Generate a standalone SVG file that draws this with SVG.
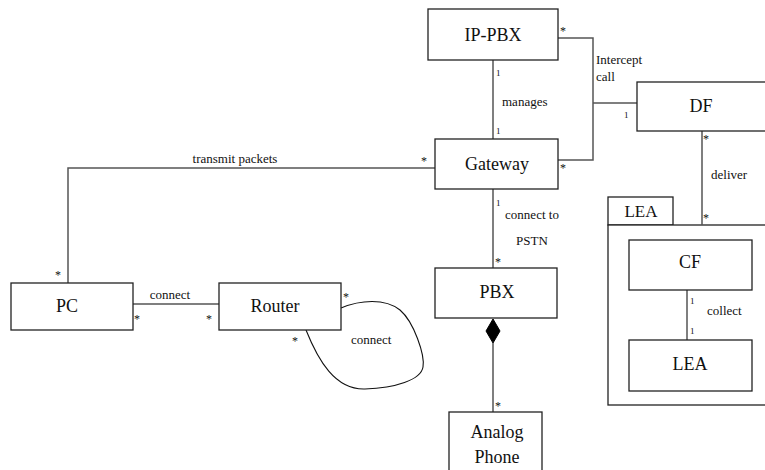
<svg xmlns="http://www.w3.org/2000/svg" width="765" height="470" viewBox="0 0 765 470" font-family="'Liberation Serif', 'DejaVu Serif', serif">
<style>
  .box{fill:#fff;stroke:#222;stroke-width:1.3}
  .ln{fill:none;stroke:#555;stroke-width:1.5}
  .loop{fill:none;stroke:#111;stroke-width:1.1}
  text{font-family:'Liberation Serif','DejaVu Serif',serif;fill:#111}
  .nl{font-size:18px;text-anchor:middle}
  .lb{font-size:13px}
  .m1{font-size:9px}
  .ms{font-size:12px}
</style>
<rect width="765" height="470" fill="#fff"/>
<g id="LEA-package">
  <rect class="box" x="608" y="197" width="65" height="28"/>
  <text class="nl" x="641" y="217" style="font-size:17px">LEA</text>
  <rect class="box" x="608" y="225" width="170" height="180"/>
</g>
<g id="connectors">
  <polyline class="ln" points="493,60 493,139"/>
  <polyline class="ln" points="558,38 593,38 593,160 558,160"/>
  <polyline class="ln" points="593,103 637,103"/>
  <polyline class="ln" points="435,168 68,168 68,283"/>
  <polyline class="ln" points="133,304 219,304"/>
  <path class="loop" d="M341,308 C360,300 385,298 400,310 C414,322 425,355 423,367 C421,380 395,388 365,389 C335,390 318,360 306,330"/>
  <polyline class="ln" points="493,189 493,268"/>
  <polyline class="ln" points="493,343 493,412"/>
  <polygon points="493,319 500,331 493,343 486,331" fill="#000" stroke="#000" stroke-width="1"/>
  <polyline class="ln" points="702,131 702,225"/>
  <polyline class="ln" points="687,290 687,340"/>
  <text class="m1" x="496" y="76">1</text>
  <text class="lb" x="502" y="106">manages</text>
  <text class="m1" x="496" y="134">1</text>
  <text class="ms" x="560" y="35">*</text>
  <text class="lb" x="596" y="64">Intercept</text>
  <text class="lb" x="596" y="81">call</text>
  <text class="m1" x="624" y="118">1</text>
  <text class="ms" x="560" y="172">*</text>
  <text class="ms" x="421" y="165">*</text>
  <text class="lb" x="235" y="163" text-anchor="middle">transmit packets</text>
  <text class="ms" x="55" y="279">*</text>
  <text class="lb" x="170" y="299" text-anchor="middle">connect</text>
  <text class="ms" x="134" y="323">*</text>
  <text class="ms" x="206" y="323">*</text>
  <text class="ms" x="343" y="301">*</text>
  <text class="ms" x="292" y="345">*</text>
  <text class="lb" x="351" y="344">connect</text>
  <text class="m1" x="496" y="206">1</text>
  <text class="lb" x="532" y="219" text-anchor="middle">connect to</text>
  <text class="lb" x="532" y="245" text-anchor="middle">PSTN</text>
  <text class="ms" x="495" y="266">*</text>
  <text class="ms" x="495" y="410">*</text>
  <text class="ms" x="703" y="143">*</text>
  <text class="lb" x="711" y="179">deliver</text>
  <text class="ms" x="703" y="222">*</text>
  <text class="m1" x="690" y="304">1</text>
  <text class="lb" x="707" y="315">collect</text>
  <text class="m1" x="690" y="334">1</text>
</g>
<g id="IP-PBX">
  <rect class="box" x="428" y="9" width="130" height="51"/>
  <text class="nl" x="493" y="41">IP-PBX</text>
</g>
<g id="Gateway">
  <rect class="box" x="435" y="139" width="123" height="50"/>
  <text class="nl" x="497" y="170">Gateway</text>
</g>
<g id="DF">
  <rect class="box" x="637" y="82" width="140" height="49"/>
  <text class="nl" x="701" y="112">DF</text>
</g>
<g id="PC">
  <rect class="box" x="11" y="283" width="122" height="47"/>
  <text class="nl" x="67" y="312">PC</text>
</g>
<g id="Router">
  <rect class="box" x="219" y="283" width="122" height="47"/>
  <text class="nl" x="275" y="312">Router</text>
</g>
<g id="PBX">
  <rect class="box" x="435" y="268" width="122" height="50"/>
  <text class="nl" x="497" y="298">PBX</text>
</g>
<g id="AnalogPhone">
  <rect class="box" x="449" y="412" width="93" height="64"/>
  <text class="nl" x="497" y="438">Analog</text>
  <text class="nl" x="497" y="463">Phone</text>
</g>
<g id="CF">
  <rect class="box" x="629" y="240" width="123" height="50"/>
  <text class="nl" x="690" y="268">CF</text>
</g>
<g id="LEA">
  <rect class="box" x="629" y="340" width="123" height="51"/>
  <text class="nl" x="690" y="370">LEA</text>
</g>
</svg>
